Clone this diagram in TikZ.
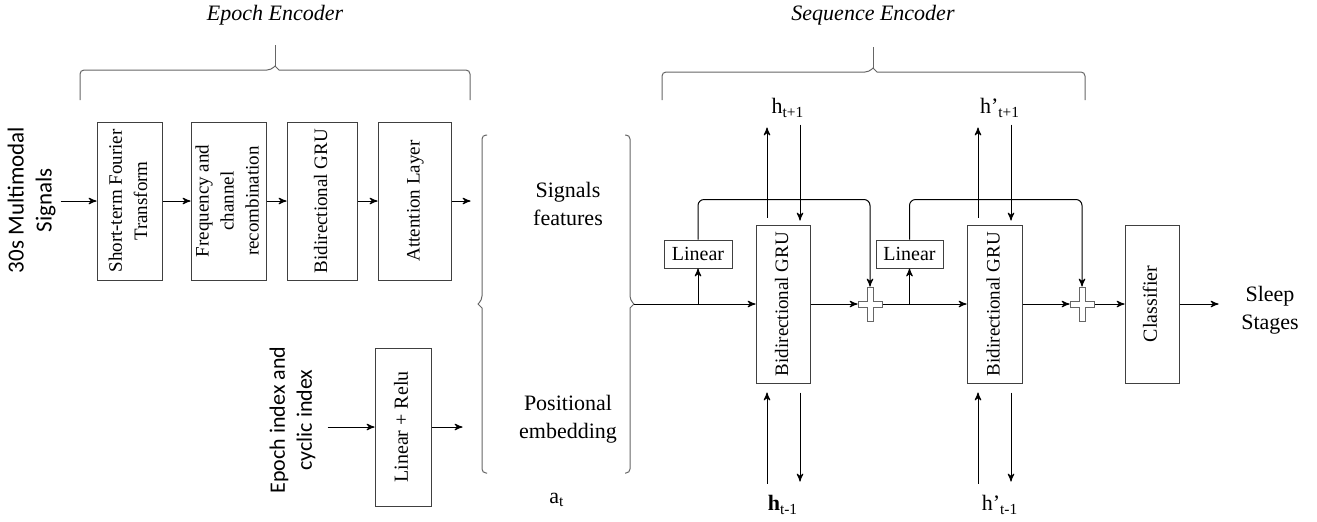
\documentclass[tikz,border=0pt]{standalone}
\usepackage{fontspec}
\setmainfont{Liberation Serif}
\newfontfamily\lightsans{Carlito}
\usepackage{graphicx}
\usetikzlibrary{positioning}
\usetikzlibrary{arrows}
\usetikzlibrary{calc}
\tikzset{>=stealth'}
\tikzset{blk/.style={draw=black!75, inner sep=0pt, align=center, font=\fontsize{9.5}{12.5}\selectfont}}
\tikzset{tall/.style={blk, minimum width=#1, minimum height=79pt}}
\tikzset{lbl/.style={inner sep=0pt, align=center, font=\fontsize{11}{14}\selectfont}}
\tikzset{brc/.style={draw=black!60, rounded corners=2pt}}
\tikzset{plussign/.pic={\draw[black!60, fill=white] (-3,-17) -- (3,-17) -- (3,-3) -- (12,-3) -- (12,3) -- (3,3) -- (3,17) -- (-3,17) -- (-3,3) -- (-12,3) -- (-12,-3) -- (-3,-3) -- cycle;}}
\newcommand{\vtext}[1]{\rotatebox{90}{\begin{tabular}{@{}c@{}}#1\end{tabular}}}

\begin{document}
\begin{tikzpicture}[x=0.5pt, y=-0.5pt, line width=0.5pt]
        \useasboundingbox (0,0) rectangle (1317,521);

        % epoch encoder
        \node[lbl, font=\fontsize{11}{13}\selectfont\itshape] (ttlE) at (275,15) {Epoch Encoder};
        \draw[brc] (80,100) |- (271,70) [sharp corners] -- (275,66) -- (279,70) [rounded corners=2pt] -| (470,100);
        \draw[brc] (275,66) -- (275,45);

        \node[lbl, font=\lightsans\fontsize{11.5}{14}\selectfont] (sig) at (32,200) {\vtext{30s Multimodal\\Signals}};
        \node[tall=32.5pt] (stft) at (129.5,201) {\vtext{Short-term Fourier\\Transform}};
        \node[tall=35.5pt] (freq) at (228.5,201) {\vtext{Frequency and\\channel\\recombination}};
        \node[tall=35pt] (egru) at (322,201) {\vtext{Bidirectional GRU}};
        \node[tall=36.5pt] (attn) at (414.5,201) {\vtext{Attention Layer}};
        \coordinate (eout) at ($(attn.east)+(19,0)$);

        \draw[->] (sig.east |- stft.west) -- (stft.west);
        \draw[->] (stft) -- (freq);
        \draw[->] (freq) -- (egru);
        \draw[->] (egru) -- (attn);
        \draw[->] (attn) -- (eout);

        \node[lbl, font=\lightsans\fontsize{11}{13.5}\selectfont] (idx) at (293,420) {\vtext{Epoch index and\\cyclic index}};
        \node[tall=28pt, font=\fontsize{10}{12}\selectfont] (lr) at (403,427) {\vtext{Linear + Relu}};
        \draw[->] ($(idx.east |- lr.west)+(7,0)$) -- (lr.west);
        \draw[->] (lr.east) -- ++(31,0);

        % features and embedding
        \draw[brc] (487,135) -| (482,300) [sharp corners] -- (478,304) -- (482,308) [rounded corners=2pt] |- (487,473);
        \draw[brc] (625,135) -| (630,300) [sharp corners] -- (634,304) -- (630,308) [rounded corners=2pt] |- (625,473);
        \coordinate (stip) at (634,304);
        \node[lbl] (feat) at (568,204) {Signals\\features};
        \node[lbl] (posemb) at (568,419) {Positional\\embedding};
        \node[lbl] (avec) at (557,500) {a\textsubscript{t}};

        % sequence encoder
        \node[lbl, font=\fontsize{11}{13}\selectfont\itshape] (ttlS) at (873,15) {Sequence Encoder};
        \draw[brc] (662,100) |- (869,72) [sharp corners] -- (873,68) -- (877,72) [rounded corners=2pt] -| (1085,100);
        \draw[brc] (873,68) -- (873,47);

        \node[tall=27pt] (gru1) at (783,304) {\vtext{Bidirectional GRU}};
        \node[tall=27.5pt] (gru2) at (994.5,304) {\vtext{Bidirectional GRU}};
        \node[tall=27pt, font=\fontsize{10}{12}\selectfont] (cls) at (1152,304) {\vtext{Classifier}};
        \node[blk, minimum width=34pt, minimum height=14pt, font=\fontsize{10}{12}\selectfont] (lin1) at (698,254) {Linear};
        \node[blk, minimum width=33.5pt, minimum height=14pt, font=\fontsize{10}{12}\selectfont] (lin2) at (909.5,254) {Linear};
        \node[inner sep=0pt, minimum width=12pt, minimum height=17pt] (p1) at (870,304) {};
        \node[inner sep=0pt, minimum width=12pt, minimum height=17pt] (p2) at (1082,304) {};
        \node[lbl] (sleep) at (1270,310) {Sleep\\Stages};

        \draw[->] (stip) -- (gru1.west);
        \draw[->] (lin1.south |- stip) -- (lin1.south);
        \draw[->, rounded corners=3pt] (lin1.north) -- ++(0,-40) -| (p1.north);
        \draw[->] (gru1.east) -- (p1.west);
        \draw[->] (p1.east) -- (gru2.west);
        \draw[->] (lin2.south |- p1.east) -- (lin2.south);
        \draw[->, rounded corners=3pt] (lin2.north) -- ++(0,-40) -| (p2.north);
        \draw[->] (gru2.east) -- (p2.west);
        \draw[->] (p2.east) -- (cls.west);
        \draw[->] (cls.east) -- ++(39,0);
        \pic at (p1) {plussign};
        \pic at (p2) {plussign};

        % hidden states
        \draw[->] ($(gru1.north)+(-16,-7)$) -- ++(0,-90);
        \draw[->] ($(gru1.north)+(17,-100)$) -- ++(0,96);
        \draw[->] ($(gru1.south)+(-16,100)$) -- ++(0,-91);
        \draw[->] ($(gru1.south)+(17,9)$) -- ++(0,89);
        \draw[->] ($(gru2.north)+(-16.5,-7)$) -- ++(0,-90);
        \draw[->] ($(gru2.north)+(16.5,-100)$) -- ++(0,96);
        \draw[->] ($(gru2.south)+(-16.5,100)$) -- ++(0,-91);
        \draw[->] ($(gru2.south)+(16.5,9)$) -- ++(0,89);
        \node[lbl] (hup1) at (788,108) {h\textsubscript{t+1}};
        \node[lbl] (hdn1) at (783,505) {\textbf{h}\textsubscript{t-1}};
        \node[lbl] (hup2) at (1000,108) {h'\textsubscript{t+1}};
        \node[lbl] (hdn2) at (1000,505) {h'\textsubscript{t-1}};
    \end{tikzpicture}
\end{document}
